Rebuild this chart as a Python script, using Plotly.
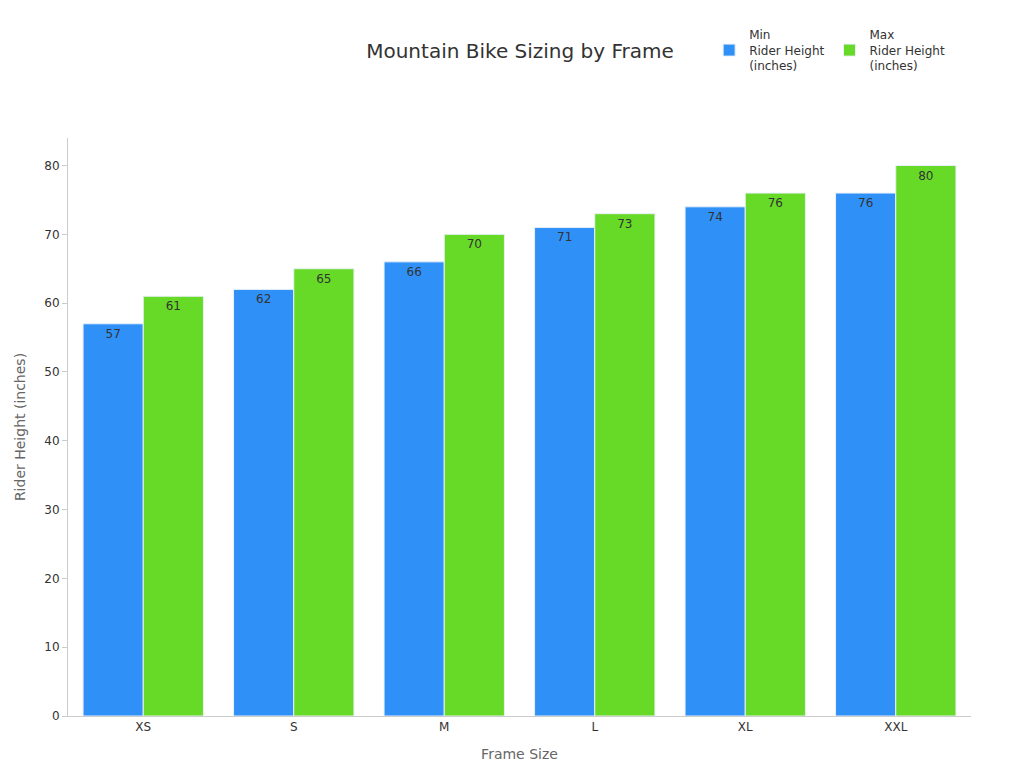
import plotly.graph_objects as go

frames = ["XS", "S", "M", "L", "XL", "XXL"]
min_height = [57, 62, 66, 71, 74, 76]
max_height = [61, 65, 70, 73, 76, 80]

fig = go.Figure()
fig.add_bar(x=frames, y=min_height, name="Min<br>Rider Height<br>(inches)",
            marker=dict(color="#2F91F8", line=dict(color="#E8F0F8", width=1)),
            text=min_height, textposition="inside", insidetextanchor="end",
            textfont=dict(color="#333333", size=12))
fig.add_bar(x=frames, y=max_height, name="Max<br>Rider Height<br>(inches)",
            marker=dict(color="#66DA26", line=dict(color="#E8F0F8", width=1)),
            text=max_height, textposition="inside", insidetextanchor="end",
            textfont=dict(color="#333333", size=12))
fig.update_layout(
    width=1024, height=768,
    font=dict(family="DejaVu Sans", size=12, color="#333333"),
    title=dict(text="Mountain Bike Sizing by Frame", x=0.5, y=0.953, xanchor="center",
               font=dict(size=20, color="#333333")),
    barmode="group", bargap=0.2, bargroupgap=0,
    plot_bgcolor="white", paper_bgcolor="white",
    margin=dict(l=60, r=61, t=85, b=60),
    legend=dict(orientation="h", x=0.71, y=1.1, xanchor="left", yanchor="bottom",
                font=dict(size=12)),
    xaxis=dict(title=dict(text="Frame Size", font=dict(size=14, color="#666666")),
               showline=True, linecolor="#CCCCCC", showgrid=False),
    yaxis=dict(title=dict(text="Rider Height (inches)", font=dict(size=14, color="#666666")),
               range=[0, 84], dtick=10, showline=True, linecolor="#CCCCCC",
               ticks="outside", ticklen=5, tickcolor="#CCCCCC", showgrid=False, zeroline=False),
    uniformtext=dict(mode="show", minsize=12),
)
fig.write_html("out.html")
